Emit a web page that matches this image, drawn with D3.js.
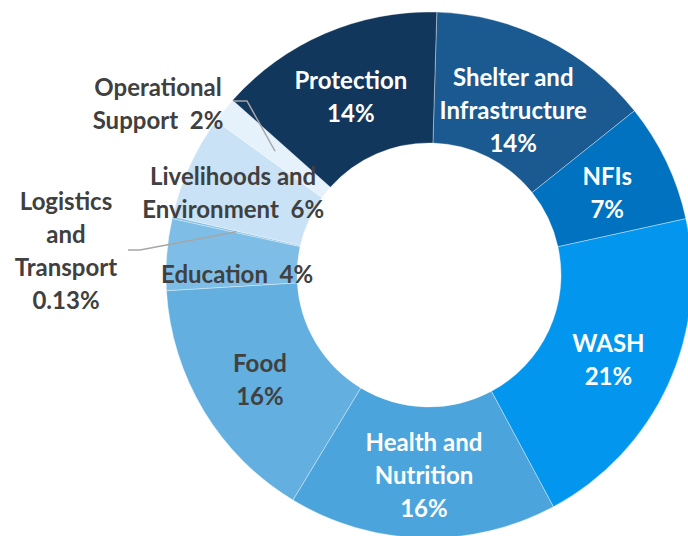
<!DOCTYPE html>
<html>
<head>
<meta charset="utf-8">
<script src="https://cdn.jsdelivr.net/npm/d3@7"></script>
<style>
  body { margin: 0; background: #fff; }
  svg text { font-family: Lato, "Open Sans", sans-serif; font-weight: 700; white-space: pre; }
</style>
</head>
<body>
<div id="chart"></div>
<script>
// sectors, clockwise from 12 o'clock
var sectors = ["Shelter and Infrastructure", "NFIs", "WASH", "Health and Nutrition", "Food",
               "Education", "Logistics and Transport", "Livelihoods and Environment",
               "Operational Support", "Protection"];
var shares = [13.8, 7.3, 20.6, 16.5, 15.4, 4.4, 0.13, 6.4, 1.6, 13.9];
var pctLabels = ["14%", "7%", "21%", "16%", "16%", "4%", "0.13%", "6%", "2%", "14%"];
// label lines as shown in the chart
var labelLines = [
    ["Shelter and", "Infrastructure", "14%"],
    ["NFIs", "7%"],
    ["WASH", "21%"],
    ["Health and", "Nutrition", "16%"],
    ["Food", "16%"],
    ["Education  4%"],
    ["Logistics", "and", "Transport", "0.13%"],
    ["Livelihoods and", "Environment  6%"],
    ["Operational", "Support  2%"],
    ["Protection", "14%"]
];
var colors = ["#1b5a91", "#0072c0", "#0396ee", "#4ca4dc", "#62afe0",
              "#7dbde6", "#7dbde6", "#c9e2f5", "#e5f1fb", "#12375c"];
var textColors = ["#fff", "#fff", "#fff", "#fff", "#404040",
                  "#404040", "#404040", "#404040", "#404040", "#fff"];

var width = 688, height = 536;
var cx = 429, cy = 275;
var outerR = 263, innerR = 132;
var offset = 1.7 * Math.PI / 180;

var svg = d3.select("#chart").append("svg")
    .attr("width", width)
    .attr("height", height);

var g = svg.append("g")
    .attr("transform", "translate(" + cx + "," + cy + ")");

var pie = d3.pie()
    .sort(null)
    .value(function(d) { return d; })
    .startAngle(offset)
    .endAngle(offset + 2 * Math.PI);

var arc = d3.arc().innerRadius(innerR).outerRadius(outerR);
var arcs = pie(shares);

g.selectAll("path.slice")
    .data(arcs)
    .enter().append("path")
    .attr("class", "slice")
    .attr("d", arc)
    .attr("fill", function(d, i) { return colors[i]; })
    .attr("stroke", "rgba(255,255,255,0.6)")
    .attr("stroke-width", 0.6);

// label anchor: centroid, nudged for a few; outside labels for tiny slices
var nudge = {0: [-4, 9], 5: [5, 12], 7: [-16, -3]};
var outside = {6: [-363, -24], 8: [-271, -171]};  // relative to center
var lineH = 33;

arcs.forEach(function(d, i) {
    var c = arc.centroid(d);
    var x = c[0], y = c[1] + 3;
    if (nudge[i]) { x += nudge[i][0]; y += nudge[i][1]; }
    if (outside[i]) { x = outside[i][0]; y = outside[i][1]; }
    var lines = labelLines[i];
    var y0 = y - (lines.length - 1) * lineH / 2;
    var t = g.append("text")
        .attr("text-anchor", "middle")
        .attr("fill", textColors[i])
        .style("font-size", "24px");
    lines.forEach(function(s, k) {
        t.append("tspan")
            .attr("x", x)
            .attr("y", y0 + k * lineH)
            .attr("dy", "0.35em")
            .text(s);
    });
});

// leader lines for the outside labels
var leaders = {6: [[-301, 250 - cy], [-289, 250 - cy]], 8: [[-196, 101 - cy], [-182, 101 - cy]]};
Object.keys(leaders).forEach(function(k) {
    var c = arc.centroid(arcs[k]);
    var pts = leaders[k].concat([c]);
    g.append("path")
        .attr("d", d3.line()(pts))
        .attr("fill", "none")
        .attr("stroke", "#a6a6a6")
        .attr("stroke-width", 1.5);
});
</script>
</body>
</html>
